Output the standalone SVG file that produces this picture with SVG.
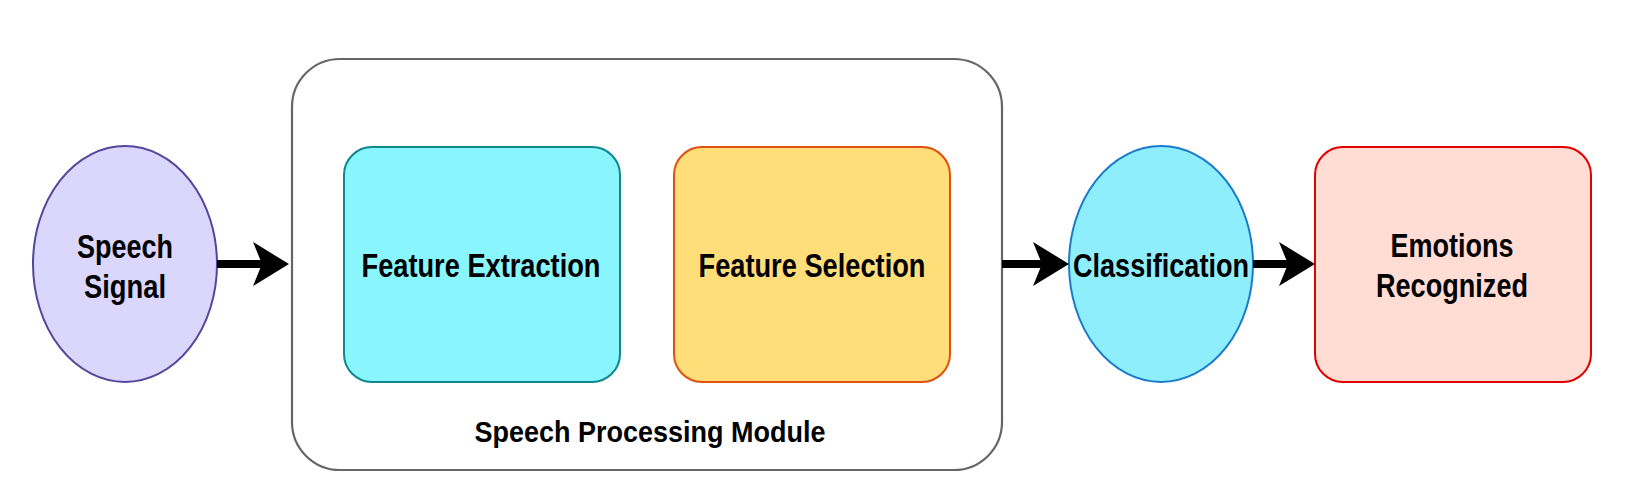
<svg xmlns="http://www.w3.org/2000/svg" width="1652" height="498" viewBox="0 0 1652 498">
<style>
text{font-family:"Liberation Sans",Arial,Helvetica,sans-serif;font-weight:bold;fill:#000;text-anchor:middle}
.lbl{font-size:33px}
.shaft{stroke:#000;stroke-width:8;fill:none}
.head{fill:#000}
</style>
<rect width="1652" height="498" fill="#ffffff"/>
<g id="speech-processing-module">
<rect x="292" y="59" width="710" height="411" rx="48" ry="48" fill="#ffffff" stroke="#666666" stroke-width="2.2"/>
<text x="650" y="442" style="font-size:30px" textLength="351" lengthAdjust="spacingAndGlyphs">Speech Processing Module</text>
</g>
<g id="speech-signal">
<ellipse cx="125" cy="264" rx="92" ry="118" fill="#DAD6FC" stroke="#56459A" stroke-width="2"/>
<text class="lbl" x="125" y="258" textLength="96" lengthAdjust="spacingAndGlyphs">Speech</text>
<text class="lbl" x="125" y="298" textLength="82" lengthAdjust="spacingAndGlyphs">Signal</text>
</g>
<g id="feature-extraction">
<rect x="344" y="147" width="276" height="235" rx="28" ry="28" fill="#88F6FC" stroke="#10868F" stroke-width="2"/>
<text class="lbl" x="481" y="277" textLength="239" lengthAdjust="spacingAndGlyphs">Feature Extraction</text>
</g>
<g id="feature-selection">
<rect x="674" y="147" width="276" height="235" rx="28" ry="28" fill="#FFDD78" stroke="#E05010" stroke-width="2"/>
<text class="lbl" x="812" y="277" textLength="227" lengthAdjust="spacingAndGlyphs">Feature Selection</text>
</g>
<g id="classification">
<ellipse cx="1161" cy="264" rx="92" ry="118" fill="#8EEEFC" stroke="#1A7ACC" stroke-width="2"/>
<text class="lbl" x="1161" y="277" textLength="176" lengthAdjust="spacingAndGlyphs">Classification</text>
</g>
<g id="emotions-recognized">
<rect x="1315" y="147" width="276" height="235" rx="28" ry="28" fill="#FFDDD5" stroke="#E00000" stroke-width="2"/>
<text class="lbl" x="1452" y="257" textLength="123" lengthAdjust="spacingAndGlyphs">Emotions</text>
<text class="lbl" x="1452" y="297" textLength="152" lengthAdjust="spacingAndGlyphs">Recognized</text>
</g>
<g id="connectors">
<line class="shaft" x1="217" y1="264" x2="264" y2="264"/>
<polygon class="head" points="289,264 253,242 262,264 253,286"/>
<line class="shaft" x1="1002" y1="264" x2="1043" y2="264"/>
<polygon class="head" points="1069,264 1033,242 1042,264 1033,286"/>
<line class="shaft" x1="1253" y1="264" x2="1289" y2="264"/>
<polygon class="head" points="1315,264 1279,242 1288,264 1279,286"/>
</g>
</svg>
